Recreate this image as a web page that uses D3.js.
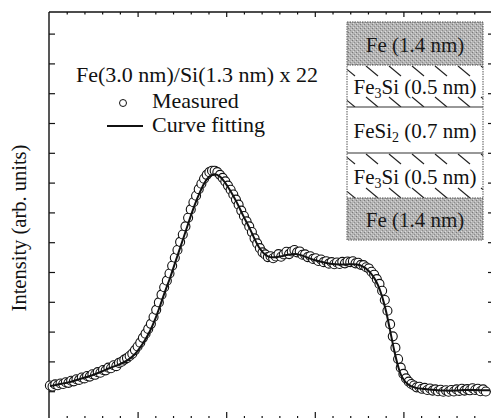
<!DOCTYPE html>
<html><head><meta charset="utf-8">
<script src="https://cdn.jsdelivr.net/npm/d3@7"></script>
<style>body{margin:0;background:#fff}svg{display:block}
.serif{font-family:"Liberation Serif","Times New Roman","DejaVu Serif",serif}</style>
</head><body>
<svg id="c" width="491" height="418"></svg>
<script>
// ---- data (arbitrary units) ----
const xStart = 0.1, xStep = 0.3;
const measured = [
 11.9,11.6,12.3,12.0,12.6,12.4,13.0,12.8,13.5,13.3,
 14.0,13.8,14.6,14.3,15.1,14.9,15.7,15.5,16.4,16.2,
 17.1,17.0,17.9,17.7,18.7,18.4,19.5,19.9,20.6,21.1,
 21.8,22.6,23.8,25.0,26.3,27.9,29.3,30.9,32.6,34.9,
 37.3,39.8,42.4,44.9,47.1,49.5,52.1,54.8,57.4,60.1,
 62.6,65.3,68.2,71.0,73.4,75.6,77.8,79.6,81.3,82.6,
 83.5,84.0,84.0,83.5,82.6,81.6,80.4,79.0,77.6,76.0,
 74.3,72.6,70.6,68.8,67.0,65.3,63.4,61.3,59.6,58.0,
 56.6,55.9,55.0,55.3,54.6,55.2,56.0,55.1,55.9,56.8,
 56.0,56.9,57.4,56.6,56.9,55.8,55.9,55.0,55.3,54.4,
 54.6,53.7,54.2,53.3,53.6,52.8,53.3,52.6,53.2,52.7,
 53.4,52.9,53.5,53.3,53.6,52.9,53.1,52.4,52.3,51.6,
 51.2,50.1,49.1,47.6,46.0,43.7,40.6,37.0,32.5,28.4,
 24.6,20.8,17.9,15.8,14.3,13.2,12.4,11.9,11.3,11.5,
 10.8,11.1,10.4,10.9,10.2,10.6,10.0,10.5,9.8,10.3,
 9.8,10.4,9.9,10.6,10.1,10.8,10.2,10.7,10.3,11.0,
 10.4,10.8,10.0,10.6,9.9
];
const fitX = [0.11,1.24,2.37,3.50,4.63,5.76,6.88,8.01,8.92,9.71,10.27,10.84,11.40,11.96,12.53,13.09,13.66,14.22,14.79,15.35,15.91,16.48,17.04,17.61,18.17,18.74,19.30,19.87,20.43,21.22,21.90,22.69,23.25,23.81,24.38,24.94,25.73,26.41,27.20,27.99,28.67,29.46,30.59,31.72,32.84,33.97,34.76,35.44,36.00,36.57,37.13,37.58,38.04,38.49,38.94,39.39,39.84,40.52,41.31,42.44,43.57,44.70,45.82,46.95,48.08,49.21,49.77];
const fitY = [11.7,12.4,13.1,14.1,15.1,16.4,17.8,19.1,20.5,22.5,24.6,27.2,30.2,34.0,38.6,43.4,48.0,53.0,58.0,63.0,68.0,72.8,76.8,80.2,82.2,82.8,82.0,80.0,77.4,73.2,69.0,64.4,60.8,57.8,55.9,55.0,55.0,55.4,55.9,56.0,55.4,54.5,53.5,52.8,52.5,52.6,52.5,51.8,50.6,48.6,45.6,41.9,36.8,30.5,24.0,18.5,14.8,12.3,11.2,10.7,10.4,10.2,10.2,10.4,10.4,10.3,10.3];
const yTicks = [10,20,30,40,50,60,70,80,90,100,110,120,130];
const xMajor = [10,20,30,40];
const xMinor = [2,4,6,8,12,14,16,18,22,24,26,28,32,34,36,38,42,44,46,48];
const legendTitle = "Fe(3.0 nm)/Si(1.3 nm) x 22";
const legendItems = ["Measured", "Curve fitting"];
const layers = [
  {base:"Fe", sub:"", rest:" (1.4 nm)", kind:"gray"},
  {base:"Fe", sub:"3", rest:"Si (0.5 nm)", kind:"hatch"},
  {base:"FeSi", sub:"2", rest:" (0.7 nm)", kind:"plain"},
  {base:"Fe", sub:"3", rest:"Si (0.5 nm)", kind:"hatch"},
  {base:"Fe", sub:"", rest:" (1.4 nm)", kind:"gray"}
];

// ---- layout ----
const L = 49, R = 494, T = 12, B = 421;
const svg = d3.select("#c");
const x = d3.scaleLinear().domain([0,50]).range([L,R-2]);
const y = d3.scaleLinear().domain([0,137.25]).range([B,T]);
const ink = "#111";

const defs = svg.append("defs");
const pat = defs.append("pattern").attr("id","stip").attr("width",4).attr("height",4).attr("patternUnits","userSpaceOnUse");
pat.append("rect").attr("width",4).attr("height",4).attr("fill","#b4b4b4");
pat.append("rect").attr("x",0).attr("y",0).attr("width",1).attr("height",1).attr("fill","#7a7a7a");
pat.append("rect").attr("x",2).attr("y",2).attr("width",1).attr("height",1).attr("fill","#8c8c8c");
pat.append("rect").attr("x",1).attr("y",3).attr("width",1).attr("height",1).attr("fill","#dcdcdc");
pat.append("rect").attr("x",3).attr("y",1).attr("width",1).attr("height",1).attr("fill","#d4d4d4");

const fr = svg.append("g").attr("stroke",ink).attr("stroke-width",1.4).attr("fill","none");
fr.append("line").attr("x1",L).attr("x2",L).attr("y1",T).attr("y2",B);
fr.append("line").attr("x1",L).attr("x2",R).attr("y1",T).attr("y2",T);
fr.append("line").attr("x1",L).attr("x2",R).attr("y1",B).attr("y2",B);
fr.append("line").attr("x1",R).attr("x2",R).attr("y1",T).attr("y2",B);

function styleAxis(g){ g.select(".domain").remove(); g.selectAll("line").attr("stroke",ink).attr("stroke-width",1.2); g.selectAll("text").remove(); }
svg.append("g").attr("transform",`translate(${L},0)`).call(d3.axisRight(y).tickValues(yTicks).tickSize(6).tickFormat("")).call(styleAxis);
svg.append("g").attr("transform",`translate(${R},0)`).call(d3.axisLeft(y).tickValues(yTicks).tickSize(6).tickFormat("")).call(styleAxis);
svg.append("g").attr("transform",`translate(0,${T})`).call(d3.axisBottom(x).tickValues(xMajor).tickSize(5).tickFormat("")).call(styleAxis);
svg.append("g").attr("transform",`translate(0,${T})`).call(d3.axisBottom(x).tickValues(xMinor).tickSize(2.5).tickFormat("")).call(styleAxis);
svg.append("g").attr("transform",`translate(0,${B})`).call(d3.axisTop(x).tickValues(xMajor).tickSize(9).tickFormat("")).call(styleAxis);
svg.append("g").attr("transform",`translate(0,${B})`).call(d3.axisTop(x).tickValues(xMinor).tickSize(5).tickFormat("")).call(styleAxis);

const pts = measured.map((v,i)=>[xStart + xStep*i, v]);
svg.append("g").selectAll("circle").data(pts).join("circle")
  .attr("cx",d=>x(d[0])).attr("cy",d=>y(d[1])).attr("r",4.5)
  .attr("fill","#fff").attr("stroke",ink).attr("stroke-width",1.1);

const fit = fitX.map((v,i)=>[v, fitY[i]]);
svg.append("path").datum(fit)
  .attr("d", d3.line().x(d=>x(d[0])).y(d=>y(d[1])).curve(d3.curveCatmullRom))
  .attr("fill","none").attr("stroke",ink).attr("stroke-width",2);

const lg = svg.append("g").attr("class","serif").attr("font-size",22).attr("fill",ink);
lg.append("text").attr("x",76).attr("y",82).text(legendTitle);
lg.append("circle").attr("cx",123).attr("cy",103).attr("r",3.5).attr("fill","#fff").attr("stroke",ink).attr("stroke-width",1);
lg.append("text").attr("x",152).attr("y",108).text(legendItems[0]);
lg.append("line").attr("x1",107).attr("x2",143).attr("y1",126).attr("y2",126).attr("stroke",ink).attr("stroke-width",2);
lg.append("text").attr("x",152).attr("y",132).text(legendItems[1]);

svg.append("text").attr("class","serif").attr("transform","translate(26,228) rotate(-90)")
  .attr("text-anchor","middle").attr("font-size",20.5).attr("fill",ink)
  .text("Intensity (arb. units)");

const bx0 = 347, bx1 = 483;
const edges = [22,65,107,153,198,240];
const ins = svg.append("g");
layers.forEach((ly,i)=>{
  const t = edges[i], b = edges[i+1];
  ins.append("rect").attr("x",bx0).attr("y",t).attr("width",bx1-bx0).attr("height",b-t)
    .attr("fill", ly.kind==="gray" ? "url(#stip)" : "#fff");
  if (ly.kind==="hatch") {
    const hg = ins.append("g").attr("stroke","#222").attr("stroke-width",1.1);
    d3.range(bx0-4, bx1, 23).forEach(sx=>{
      [[t+1, t+11],[b-10, b]].forEach(([a,c])=>{
        const x1 = Math.max(sx, bx0), x2 = Math.min(sx+12, bx1);
        if (x2 > x1) hg.append("line").attr("x1",x1).attr("y1",a + (x1-sx)*(10/12)).attr("x2",x2).attr("y2",a + (x2-sx)*(10/12));
      });
    });
  }
  const tx = ins.append("text").attr("class","serif").attr("x",415).attr("y",(t+b)/2+8).attr("text-anchor","middle")
    .attr("font-size",21).attr("fill", ly.kind==="gray" ? "#1a1a1a" : ink);
  tx.append("tspan").text(ly.base);
  if (ly.sub) { tx.append("tspan").attr("font-size",14).attr("dy",4).text(ly.sub); tx.append("tspan").attr("dy",-4).text(ly.rest); }
  else tx.append("tspan").text(ly.rest);
});
[65,198].forEach(e=>ins.append("line").attr("x1",bx0).attr("x2",bx1).attr("y1",e).attr("y2",e).attr("stroke","#555").attr("stroke-width",1).attr("stroke-dasharray","1.5,1"));
[107,153].forEach(e=>ins.append("line").attr("x1",bx0).attr("x2",bx1).attr("y1",e).attr("y2",e).attr("stroke","#333").attr("stroke-width",1.2));
ins.append("rect").attr("x",bx0).attr("y",22).attr("width",bx1-bx0).attr("height",218)
  .attr("fill","none").attr("stroke","#555").attr("stroke-width",1).attr("stroke-dasharray","1.5,1");
</script>
</body></html>
